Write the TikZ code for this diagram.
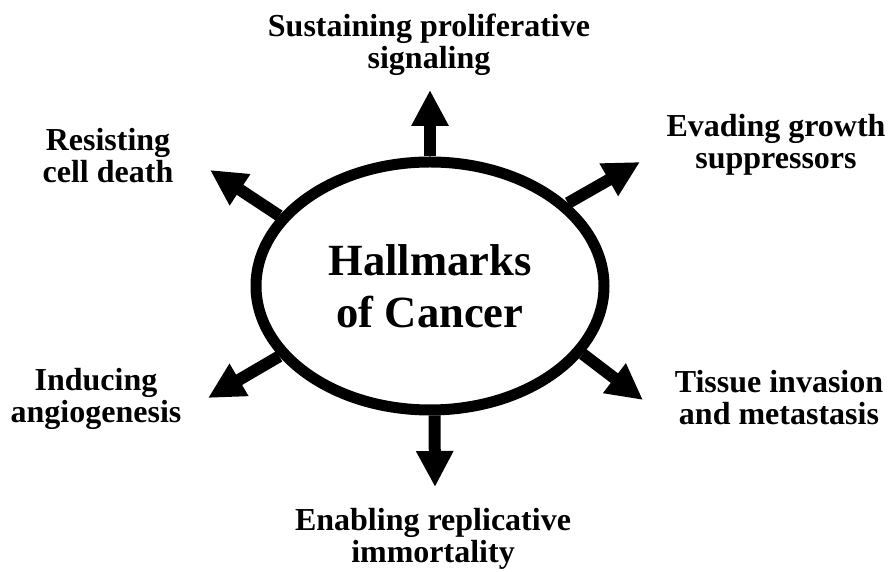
\documentclass[tikz,border=0pt]{standalone}
\usepackage{fontspec}
\setmainfont{Liberation Serif}
\usetikzlibrary{arrows.meta,shapes.geometric}

\begin{document}
\begin{tikzpicture}[x=1pt, y=1pt,
  hallmark/.style={font=\bfseries\fontsize{32}{32}\selectfont, align=center, inner sep=0pt},
  spoke/.style={line width=12pt, -{Triangle[length=36pt, width=35pt]}}]
\useasboundingbox (0,0) rectangle (889,572);
\node[draw, ellipse, line width=11pt, minimum width=348pt, minimum height=248pt, inner sep=0pt,
  font=\bfseries\fontsize{44.6}{52}\selectfont, align=center] (hub) at (430,286) {Hallmarks\\of Cancer};
% free ends of the six spokes
\coordinate (tipN) at (430,482);
\coordinate (tipNE) at (640,410);
\coordinate (tipNW) at (210,402);
\coordinate (tipSW) at (208,174);
\coordinate (tipSE) at (643,172);
\coordinate (tipS) at (435,85);
\draw[spoke] (hub.90) -- (tipN);
\draw[spoke] (hub.31) -- (tipNE);
\draw[spoke] (hub.155) -- (tipNW);
\draw[spoke] (hub.205) -- (tipSW);
\draw[spoke] (hub.-24) -- (tipSE);
\draw[spoke] (hub.-88) -- (tipS);
\node[hallmark] (signal) at (429,527.5) {Sustaining proliferative\\signaling};
\node[hallmark] (growth) at (776,427) {Evading growth\\suppressors};
\node[hallmark] (death) at (108,416) {Resisting\\cell death};
\node[hallmark] (angio) at (96,173.5) {Inducing\\angiogenesis};
\node[hallmark] (invasion) at (779,174.5) {Tissue invasion\\and metastasis};
\node[hallmark] (immortal) at (433,33.5) {Enabling replicative\\immortality};
\end{tikzpicture}
\end{document}
